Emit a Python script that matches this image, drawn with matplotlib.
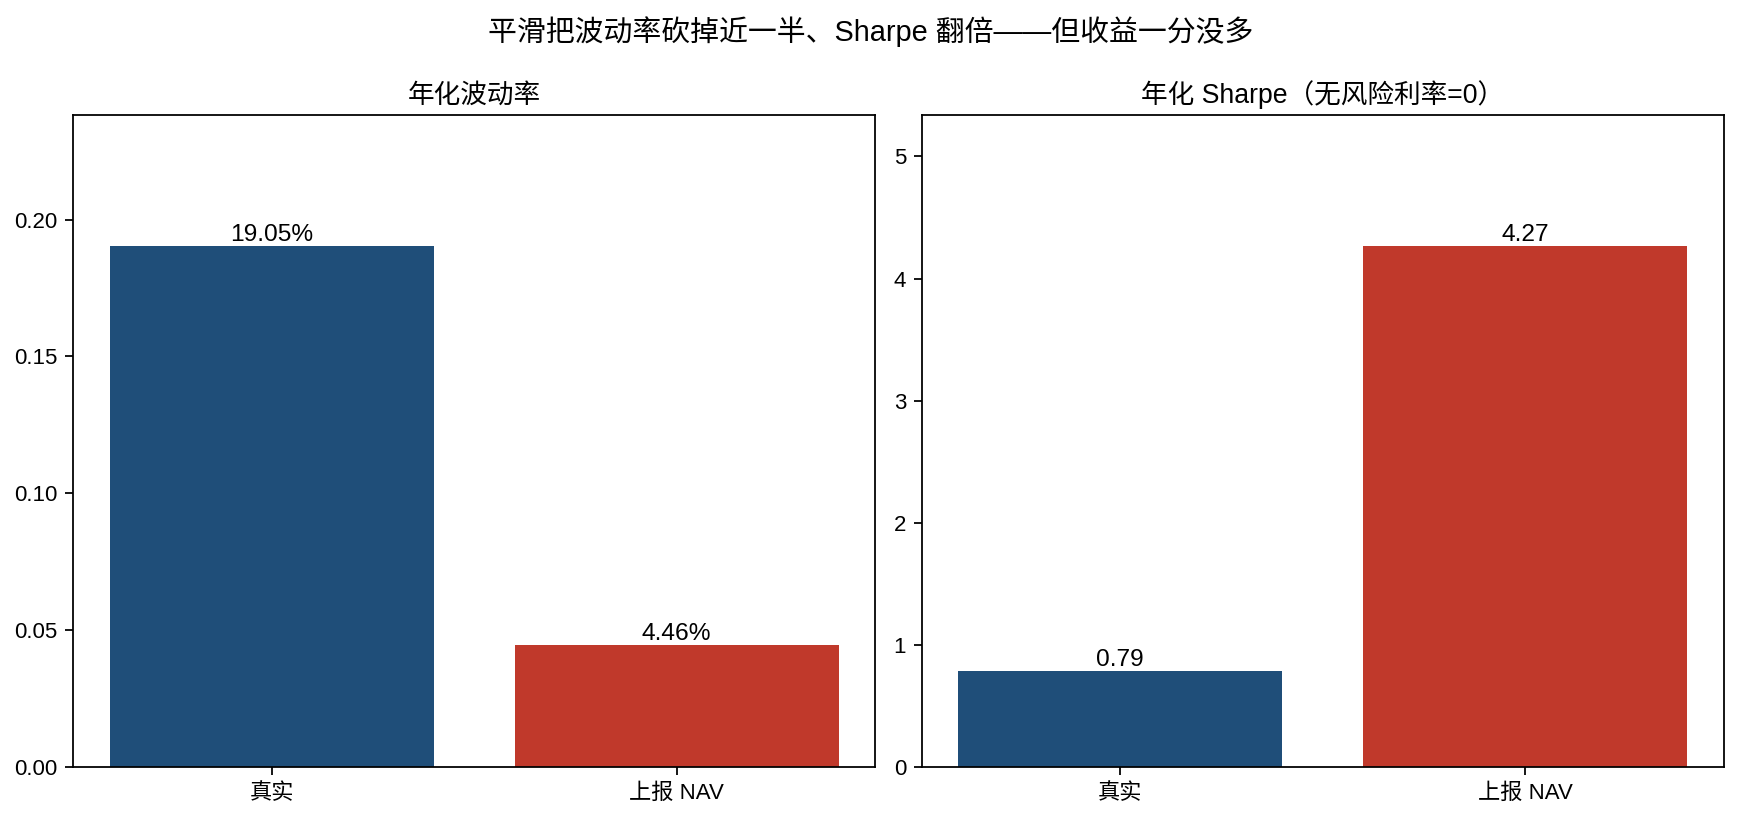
import matplotlib
matplotlib.use("Agg")
import matplotlib.pyplot as plt

plt.rcParams['font.family'] = ['Liberation Sans', 'Noto Sans CJK SC', 'DejaVu Sans']
plt.rcParams['axes.unicode_minus'] = False

# Data.
categories = ['真实', '上报 NAV']
volatility = [0.1905, 0.0446]
sharpe = [0.79, 4.27]
colors = ['#1f4e79', '#c0392b']

fig, (ax1, ax2) = plt.subplots(1, 2, figsize=(1741 / 160, 823 / 160), dpi=160)

# Annualised volatility.
bars = ax1.bar(categories, volatility, color=colors, width=0.8)
ax1.set_ylim(0, max(volatility) * 1.25)
ax1.set_title("年化波动率", fontsize=12, pad=5.5)
for b, v in zip(bars, volatility):
    ax1.text(b.get_x() + b.get_width() / 2, v, f"{v * 100:.2f}%",
             ha='center', va='bottom', fontsize=11)

# Annualised Sharpe.
bars = ax2.bar(categories, sharpe, color=colors, width=0.8)
ax2.set_ylim(0, max(sharpe) * 1.25)
ax2.set_title("年化 Sharpe（无风险利率=0）", fontsize=12, pad=5.5)
for b, v in zip(bars, sharpe):
    ax2.text(b.get_x() + b.get_width() / 2, v, f"{v:.2f}",
             ha='center', va='bottom', fontsize=11)

fig.suptitle("平滑把波动率砍掉近一半、Sharpe 翻倍——但收益一分没多", fontsize=13, y=0.98)
fig.subplots_adjust(left=0.042, right=0.99, top=0.86, bottom=0.068, wspace=0.058)
fig.savefig("out.png", dpi=160)
